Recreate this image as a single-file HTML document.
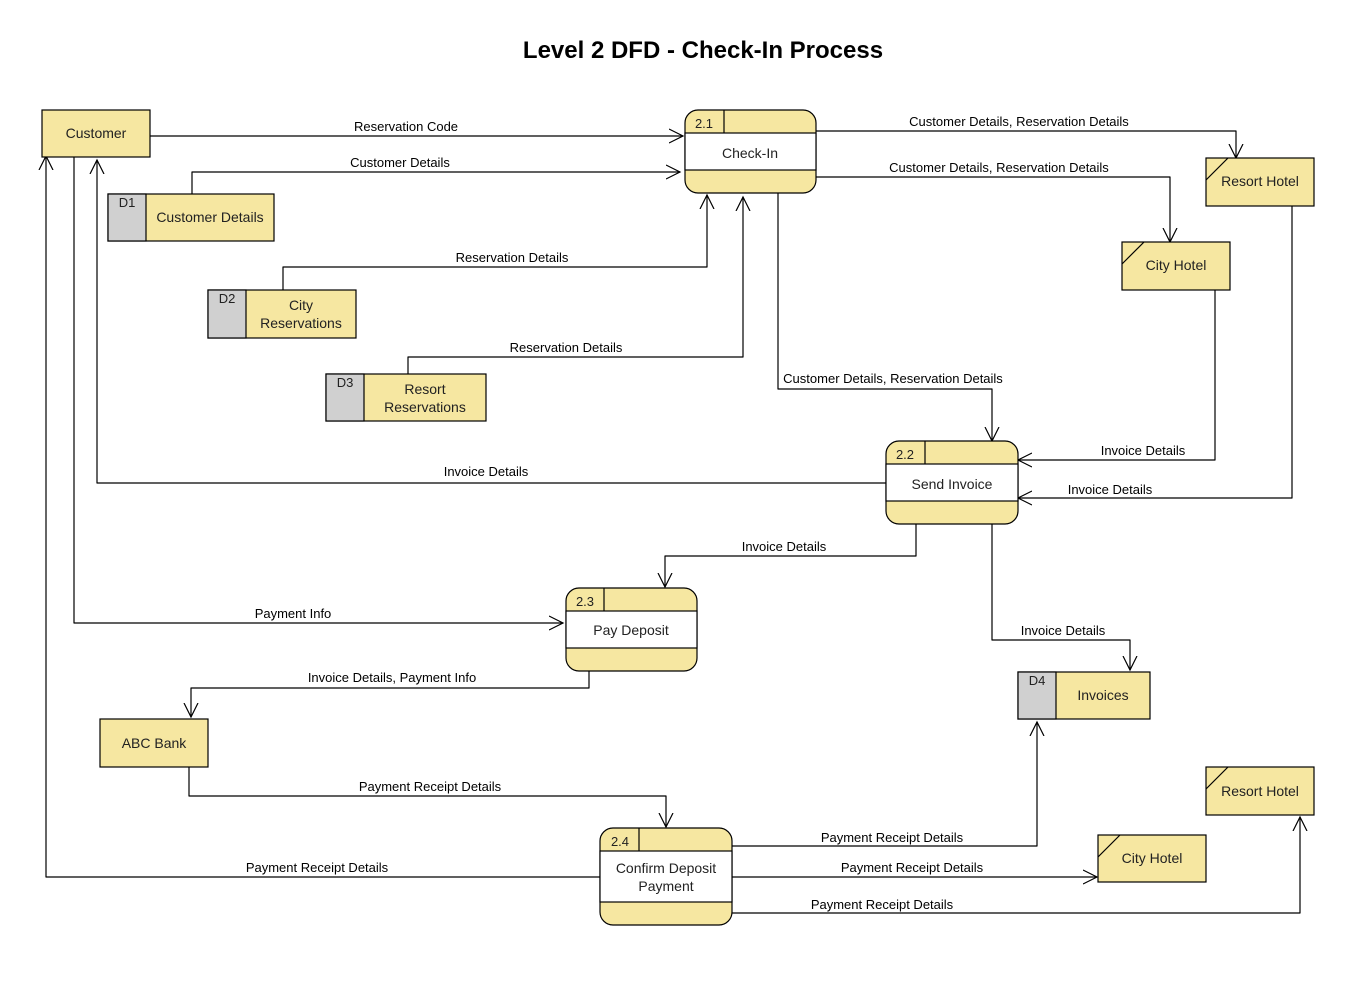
<!DOCTYPE html>
<html><head><meta charset="utf-8"><style>
body{margin:0;background:#fff}
svg{display:block;font-family:"Liberation Sans",Arial,sans-serif}
</style></head><body>
<svg width="1359" height="982" viewBox="0 0 1359 982" xmlns="http://www.w3.org/2000/svg">
<defs>
<marker id="a" markerWidth="16" markerHeight="16" refX="14" refY="8" orient="auto" markerUnits="userSpaceOnUse">
<path d="M0,1 L14,8 L0,15" fill="none" stroke="#000" stroke-width="1.2"/></marker>
</defs>
<rect width="1359" height="982" fill="#fff"/>
<text x="703" y="58" text-anchor="middle" font-size="24" font-weight="bold">Level 2 DFD - Check-In Process</text>

<g fill="none" stroke="#000" stroke-width="1.2" stroke-linejoin="round" marker-end="url(#a)">
<polyline points="150,136 683,136"/>
<polyline points="192,194 192,172 680,172"/>
<polyline points="283,290 283,267 707,267 707,195"/>
<polyline points="408,374 408,357 743,357 743,197"/>
<polyline points="816,131 1236,131 1236,158"/>
<polyline points="816,177 1170,177 1170,242"/>
<polyline points="778,193 778,389 992,389 992,441"/>
<polyline points="1215,290 1215,460 1018,460"/>
<polyline points="1292,206 1292,498 1018,498"/>
<polyline points="886,483 97,483 97,160"/>
<polyline points="916,524 916,556 665,556 665,587"/>
<polyline points="992,524 992,640 1130,640 1130,670"/>
<polyline points="74,157 74,623 563,623"/>
<polyline points="589,671 589,688 191,688 191,717"/>
<polyline points="189,767 189,796 666,796 666,827"/>
<polyline points="732,846 1037,846 1037,722"/>
<polyline points="732,877 1097,877"/>
<polyline points="732,913 1300,913 1300,817"/>
<polyline points="600,877 46,877 46,156"/>
</g>

<g font-size="13" text-anchor="middle" fill="#000">
<text x="406" y="131">Reservation Code</text>
<text x="400" y="167">Customer Details</text>
<text x="512" y="262">Reservation Details</text>
<text x="566" y="352">Reservation Details</text>
<text x="1019" y="126">Customer Details, Reservation Details</text>
<text x="999" y="172">Customer Details, Reservation Details</text>
<text x="893" y="383">Customer Details, Reservation Details</text>
<text x="1143" y="455">Invoice Details</text>
<text x="1110" y="494">Invoice Details</text>
<text x="486" y="476">Invoice Details</text>
<text x="784" y="551">Invoice Details</text>
<text x="1063" y="635">Invoice Details</text>
<text x="293" y="618">Payment Info</text>
<text x="392" y="682">Invoice Details, Payment Info</text>
<text x="430" y="791">Payment Receipt Details</text>
<text x="892" y="842">Payment Receipt Details</text>
<text x="912" y="872">Payment Receipt Details</text>
<text x="882" y="909">Payment Receipt Details</text>
<text x="317" y="872">Payment Receipt Details</text>
</g>

<g stroke="#000" stroke-width="1.2" fill="#f6e7a1" font-size="14">
<rect x="42" y="110" width="108" height="47"/>
<rect x="100" y="719" width="108" height="48"/>
<rect x="1206" y="158" width="108" height="48"/><line x1="1206" y1="180" x2="1228" y2="158"/>
<rect x="1122" y="242" width="108" height="48"/><line x1="1122" y1="264" x2="1144" y2="242"/>
<rect x="1206" y="767" width="108" height="48"/><line x1="1206" y1="789" x2="1228" y2="767"/>
<rect x="1098" y="835" width="108" height="47"/><line x1="1098" y1="857" x2="1120" y2="835"/>
<rect x="108" y="194" width="166" height="47"/><rect x="108" y="194" width="38" height="47" fill="#d0d0d0"/>
<rect x="208" y="290" width="148" height="48"/><rect x="208" y="290" width="38" height="48" fill="#d0d0d0"/>
<rect x="326" y="374" width="160" height="47"/><rect x="326" y="374" width="38" height="47" fill="#d0d0d0"/>
<rect x="1018" y="672" width="132" height="47"/><rect x="1018" y="672" width="38" height="47" fill="#d0d0d0"/>
<rect x="685" y="110" width="131" height="83" rx="13"/>
<rect x="685" y="133" width="131" height="37" fill="#fff"/><line x1="724" y1="110" x2="724" y2="133"/>
<rect x="886" y="441" width="132" height="83" rx="13"/>
<rect x="886" y="464" width="132" height="37" fill="#fff"/><line x1="925" y1="441" x2="925" y2="464"/>
<rect x="566" y="588" width="131" height="83" rx="13"/>
<rect x="566" y="611" width="131" height="37" fill="#fff"/><line x1="604" y1="588" x2="604" y2="611"/>
<rect x="600" y="828" width="132" height="97" rx="13"/>
<rect x="600" y="851" width="132" height="51" fill="#fff"/><line x1="639" y1="828" x2="639" y2="851"/>
</g>

<g font-size="14" fill="#222" text-anchor="middle">
<text x="96" y="138">Customer</text>
<text x="154" y="748">ABC Bank</text>
<text x="1260" y="186">Resort Hotel</text>
<text x="1176" y="270">City Hotel</text>
<text x="1260" y="796">Resort Hotel</text>
<text x="1152" y="863">City Hotel</text>
<text x="210" y="222">Customer Details</text>
<text x="301" y="310">City</text><text x="301" y="328">Reservations</text>
<text x="425" y="394">Resort</text><text x="425" y="412">Reservations</text>
<text x="1103" y="700">Invoices</text>
<text x="750" y="158">Check-In</text>
<text x="952" y="489">Send Invoice</text>
<text x="631" y="635">Pay Deposit</text>
<text x="666" y="873">Confirm Deposit</text><text x="666" y="891">Payment</text>
</g>
<g font-size="13" fill="#222" text-anchor="middle">
<text x="127" y="207">D1</text><text x="227" y="303">D2</text><text x="345" y="387">D3</text><text x="1037" y="685">D4</text>
<text x="704" y="128">2.1</text><text x="905" y="459">2.2</text><text x="585" y="606">2.3</text><text x="620" y="846">2.4</text>
</g>
</svg>
</body></html>
